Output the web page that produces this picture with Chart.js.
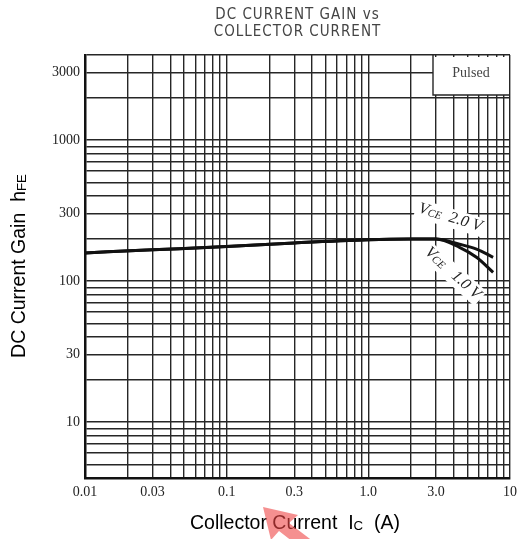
<!DOCTYPE html>
<html>
<head>
<meta charset="utf-8">
<script src="https://cdn.jsdelivr.net/npm/chart.js@4.4.0/dist/chart.umd.min.js"></script>
<style>
  body { margin: 0; background: #fff; }
  #wrap { width: 527px; height: 539px; position: relative; }
</style>
</head>
<body>
<div id="wrap"><canvas id="gain-chart"></canvas></div>
<script>
// collector current (A) and hFE
const current = [0.01, 0.03, 0.1, 0.3, 1.0, 2.0, 3.0, 4.4, 5.8, 7.6];
const gainVce2 = [158, 166, 175, 186, 196, 198, 198, 182, 168, 147];
const gainVce1 = [158, 166, 175, 186, 196, 198, 198, 173, 147, 115];

const xLabels = [0.01, 0.03, 0.1, 0.3, 1, 3, 10];
const xLabelText = ['0.01', '0.03', '0.1', '0.3', '1.0', '3.0', '10'];
const yLabels = [10, 30, 100, 300, 1000, 3000];
const yLabelText = ['10', '30', '100', '300', '1000', '3000'];

function logTicks(min, max) {
    var out = [];
    for (var d = min; d < max * 1.0001; d *= 10) {
        for (var m = 1; m < 10; m++) {
            var v = +(d * m).toPrecision(3);
            if (v >= min * 0.9999 && v <= max * 1.0001) out.push(v);
        }
    }
    return out;
}

function toPoints(xs, ys) {
    return xs.map(function (x, i) { return { x: x, y: ys[i] }; });
}

const data = {
    datasets: [{
        label: 'VCE = 2.0 V',
        data: toPoints(current, gainVce2),
        borderColor: '#111',
        borderWidth: 3,
        pointRadius: 0,
        showLine: true,
        cubicInterpolationMode: 'monotone'
    },
    {
        label: 'VCE = 1.0 V',
        data: toPoints(current, gainVce1),
        borderColor: '#111',
        borderWidth: 3,
        pointRadius: 0,
        showLine: true,
        cubicInterpolationMode: 'monotone'
    }]
};

const tickFont = { family: 'Liberation Serif', size: 14 };

const options = {
    responsive: false,
    animation: false,
    layout: { padding: { top: 55, right: 17, left: 0, bottom: 0 } },
    plugins: {
        legend: { display: false },
        tooltip: { enabled: false }
    },
    scales: {
        x: {
            type: 'logarithmic',
            min: 0.01,
            max: 10,
            afterBuildTicks: function (axis) {
                axis.ticks = logTicks(0.01, 10).map(function (v) { return { value: v }; });
            },
            afterFit: function (axis) { axis.height = 61; },
            grid: { color: '#262626', lineWidth: 1.4, drawTicks: false },
            border: { color: '#111', width: 2.5 },
            ticks: {
                autoSkip: false,
                maxRotation: 0,
                padding: 6,
                color: '#222',
                font: tickFont,
                callback: function (value) {
                    var i = xLabels.findIndex(function (v) { return Math.abs(v - value) / v < 1e-6; });
                    return i >= 0 ? xLabelText[i] : '';
                }
            }
        },
        y: {
            type: 'logarithmic',
            min: 4,
            max: 4000,
            afterBuildTicks: function (axis) {
                axis.ticks = logTicks(1, 1000).concat([2000, 3000, 4000]).filter(function (v) { return v >= 4; })
                    .map(function (v) { return { value: v }; });
            },
            afterFit: function (axis) { axis.width = 85; },
            grid: { color: '#262626', lineWidth: 1.4, drawTicks: false },
            border: { color: '#111', width: 2.5 },
            ticks: {
                autoSkip: false,
                padding: 5,
                color: '#222',
                font: tickFont,
                callback: function (value) {
                    var i = yLabels.findIndex(function (v) { return Math.abs(v - value) / v < 1e-6; });
                    return i >= 0 ? yLabelText[i] : '';
                }
            }
        }
    }
};

// text with a smaller subscript part
function subText(ctx, parts, x, y, size, family, style) {
    var cx = x;
    parts.forEach(function (p) {
        var s = p.sub ? size * 0.68 : size;
        ctx.font = (style || '') + ' ' + s + 'px ' + family;
        ctx.fillText(p.t, cx, y + (p.sub ? size * 0.12 : 0));
        cx += ctx.measureText(p.t).width;
    });
    return cx - x;
}
function subWidth(ctx, parts, size, family, style) {
    var w = 0;
    parts.forEach(function (p) {
        ctx.font = (style || '') + ' ' + (p.sub ? size * 0.68 : size) + 'px ' + family;
        w += ctx.measureText(p.t).width;
    });
    return w;
}

const extras = {
    id: 'extras',
    afterDraw: function (chart) {
        var ctx = chart.ctx;
        var area = chart.chartArea;
        ctx.save();

        // title
        ctx.fillStyle = '#444';
        ctx.textAlign = 'center';
        ctx.textBaseline = 'middle';
        ctx.font = '15px "DejaVu Sans Condensed", "DejaVu Sans"';
        ctx.letterSpacing = '1px';
        ctx.fillText('DC CURRENT GAIN vs', (area.left + area.right) / 2, 15);
        ctx.fillText('COLLECTOR CURRENT', (area.left + area.right) / 2, 32);
        ctx.letterSpacing = '0px';

        // Pulsed box
        ctx.fillStyle = '#fff';
        ctx.fillRect(433, area.top + 2, area.right - 434, 95 - area.top - 2);
        ctx.strokeStyle = '#262626';
        ctx.lineWidth = 1.4;
        ctx.beginPath();
        ctx.moveTo(433, area.top);
        ctx.lineTo(433, 95);
        ctx.lineTo(area.right, 95);
        ctx.stroke();
        ctx.fillStyle = '#444';
        ctx.font = '14px "Liberation Serif"';
        ctx.fillText('Pulsed', 471, 73);

        // curve labels
        var family = '"Liberation Serif"';
        var labels = [
            { x: 419, y: 208, a: 17, parts: [{ t: 'V' }, { t: 'CE', sub: true }, { t: '  2.0 V' }] },
            { x: 427, y: 250, a: 42, parts: [{ t: 'V' }, { t: 'CE', sub: true }, { t: '   1.0 V' }] }
        ];
        labels.forEach(function (l) {
            ctx.save();
            ctx.translate(l.x, l.y);
            ctx.rotate(l.a * Math.PI / 180);
            var w = subWidth(ctx, l.parts, 16, family, 'italic');
            ctx.fillStyle = '#fff';
            ctx.fillRect(-3, -9, w + 6, 19);
            ctx.fillStyle = '#222';
            ctx.textAlign = 'left';
            subText(ctx, l.parts, 0, 0, 16, family, 'italic');
            ctx.restore();
        });

        // axis titles
        ctx.fillStyle = '#000';
        ctx.textAlign = 'left';
        var sans = '"Liberation Sans"';
        var xt = [{ t: 'Collector Current  I' }, { t: 'C', sub: true }, { t: '  (A)' }];
        var xw = subWidth(ctx, xt, 19.5, sans);
        subText(ctx, xt, 295 - xw / 2, 524, 19.5, sans);

        var yt = [{ t: 'DC Current Gain  h' }, { t: 'FE', sub: true }];
        ctx.save();
        ctx.translate(20, 266);
        ctx.rotate(-Math.PI / 2);
        var yw = subWidth(ctx, yt, 19.5, sans);
        subText(ctx, yt, -yw / 2, 0, 19.5, sans);
        ctx.restore();

        // red watermark arrow
        ctx.fillStyle = 'rgba(238, 70, 70, 0.6)';
        ctx.beginPath();
        ctx.moveTo(263, 507);
        ctx.lineTo(298, 515);
        ctx.lineTo(289, 523);
        ctx.lineTo(318, 545);
        ctx.lineTo(306, 552);
        ctx.lineTo(279, 531);
        ctx.lineTo(271, 540);
        ctx.closePath();
        ctx.fill();

        ctx.restore();
    }
};

const canvas = document.getElementById('gain-chart');
canvas.width = 527;
canvas.height = 539;
const gainChart = new Chart(canvas, {
    type: 'scatter',
    data: data,
    options: options,
    plugins: [extras]
});
</script>
</body>
</html>
